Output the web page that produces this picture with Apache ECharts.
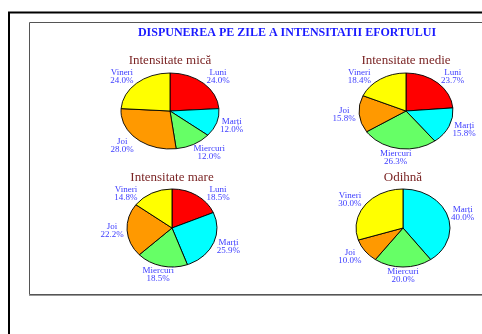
<!DOCTYPE html>
<html><head><meta charset="utf-8">
<script src="https://cdn.jsdelivr.net/npm/echarts@6/dist/echarts.min.js"></script>
<style>html,body{margin:0;padding:0;background:#fff}#c{width:482px;height:334px}</style>
</head><body><div id="c"></div><script>
// Days of the week and their slice colours
const days = ['Luni', 'Marți', 'Miercuri', 'Joi', 'Vineri'];
const dayColors = ['#ff0000', '#00ffff', '#66ff66', '#ff9900', '#ffff00'];

const chartTitle = 'DISPUNEREA PE ZILE A INTENSITATII EFORTULUI';
const pieTitles = ['Intensitate mică', 'Intensitate medie', 'Intensitate mare', 'Odihnă'];

// Percentage of sessions per day, one array per effort level
const valMica = [24.0, 12.0, 12.0, 28.0, 24.0];
const valMedie = [23.7, 15.8, 26.3, 15.8, 18.4];
const valMare = [18.5, 25.9, 18.5, 22.2, 14.8];
const valOdihna = [0, 40.0, 20.0, 10.0, 30.0];

const pieValues = [valMica, valMedie, valMare, valOdihna];

// Placement of each tilted pie: centre, horizontal and vertical radius, title line
const pieLayout = [
  { cx: 170, cy: 111, rx: 49, ry: 38, ty: 61 },
  { cx: 406, cy: 111, rx: 47, ry: 38, ty: 61 },
  { cx: 172, cy: 228, rx: 45, ry: 39, ty: 178 },
  { cx: 403, cy: 228, rx: 47, ry: 39, ty: 178 }
];

const serif = '"Liberation Serif", "Times New Roman", serif';
const labelSize = 9, labelLine = 8;

const measureCtx = document.createElement('canvas').getContext('2d');
measureCtx.font = labelSize + 'px ' + serif;
function textWidth(t) { return measureCtx.measureText(t).width; }

function makeRender(vals, L) {
  const total = vals.reduce((a, b) => a + b, 0);
  return function (params) {
    const i = params.dataIndex;
    const v = vals[i];
    if (!v) return null;
    let before = 0;
    for (let k = 0; k < i; k++) before += vals[k];
    const a0 = before / total * 2 * Math.PI;
    const a1 = (before + v) / total * 2 * Math.PI;
    const mid = (a0 + a1) / 2;
    const s = Math.sin(mid), c = -Math.cos(mid);
    const pct = v.toFixed(1) + '%';
    const hw = Math.max(textWidth(days[i]), textWidth(pct)) / 2;

    // labels sit centred on a wider ellipse around the pie,
    // kept clear of the pie's own heading
    let tx = L.cx + (L.rx + 15) * s;
    let ty = L.cy + (L.ry + 9) * c;
    ty = Math.max(ty, L.ty + 8 + labelLine);
    // side labels are nudged outwards until they clear the pie's rim
    if (Math.abs(s) > 0.3) {
      const yNear = ty - Math.sign(c) * (labelLine - 1);
      const d = (yNear - L.cy) / L.ry;
      const xe = Math.abs(d) < 1 ? L.rx * Math.sqrt(1 - d * d) : 0;
      const need = xe + 2 + hw;
      if (Math.abs(tx - L.cx) < need) tx = L.cx + Math.sign(s) * need;
    }
    return {
      type: 'group',
      children: [
        {
          type: 'sector',
          x: L.cx, y: L.cy,
          scaleY: L.ry / L.rx,
          shape: {
            cx: 0, cy: 0, r0: 0, r: L.rx,
            startAngle: -Math.PI / 2 + a0,
            endAngle: -Math.PI / 2 + a1,
            clockwise: true
          },
          style: { fill: dayColors[i], stroke: '#000', lineWidth: 1, strokeNoScale: true }
        },
        {
          type: 'text',
          x: tx, y: ty,
          style: {
            text: days[i] + '\n' + pct,
            fill: '#3c3cff',
            fontSize: labelSize,
            fontFamily: serif,
            lineHeight: labelLine,
            align: 'center',
            verticalAlign: 'middle'
          }
        }
      ]
    };
  };
}

const chart = echarts.init(document.getElementById('c'), null, { renderer: 'canvas' });

const graphics = [
  { type: 'rect', z: 0, shape: { x: 9, y: 12.5, width: 600, height: 400 },
    style: { fill: 'none', stroke: '#000', lineWidth: 2 } },
  { type: 'rect', z: 0, shape: { x: 29.5, y: 22.5, width: 600, height: 272 },
    style: { fill: 'none', stroke: '#555', lineWidth: 1 } },
  { type: 'line', z: 0, shape: { x1: 29, y1: 295.5, x2: 600, y2: 295.5 },
    style: { stroke: '#999', lineWidth: 1 } },
  { type: 'text', x: 287, y: 33,
    style: { text: chartTitle, fill: '#1a1aff', fontSize: 12, fontWeight: 'bold',
      fontFamily: serif, align: 'center', verticalAlign: 'middle' } }
];
pieTitles.forEach((t, k) => {
  graphics.push({ type: 'text', x: pieLayout[k].cx, y: pieLayout[k].ty,
    style: { text: t, fill: '#7b2525', fontSize: 13, fontFamily: serif,
      align: 'center', verticalAlign: 'middle' } });
});

chart.setOption({
  animation: false,
  graphic: graphics,
  series: pieValues.map((vals, k) => ({
    type: 'custom',
    coordinateSystem: 'none',
    silent: true,
    data: vals,
    renderItem: makeRender(vals, pieLayout[k])
  }))
});
</script></body></html>
